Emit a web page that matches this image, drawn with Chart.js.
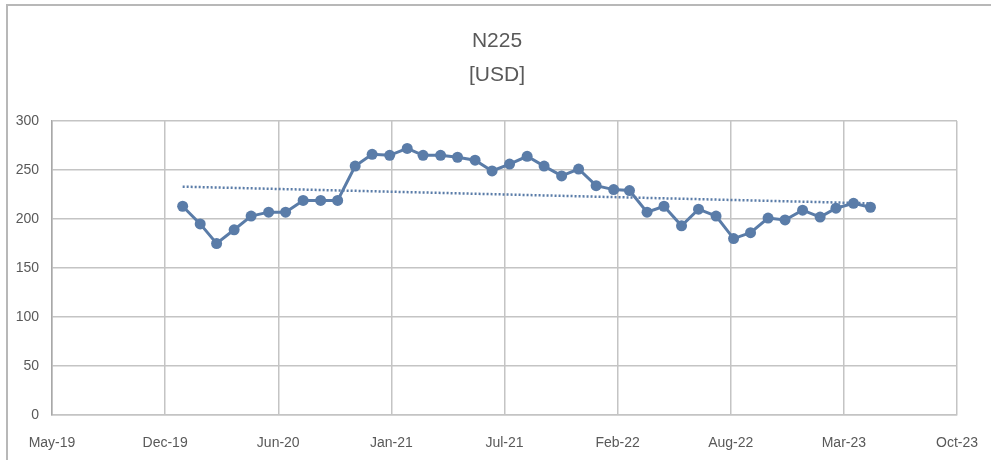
<!DOCTYPE html>
<html>
<head>
<meta charset="utf-8">
<script src="https://cdn.jsdelivr.net/npm/chart.js@4/dist/chart.umd.min.js"></script>
<style>
  html, body { margin: 0; padding: 0; background: #fff; }
  #wrap { position: relative; width: 991px; height: 460px; overflow: hidden; }
  #frame { position: absolute; left: 6px; top: 4px; right: -4px; bottom: -4px;
           border-top: 2px solid #b8b8b8; border-left: 2px solid #b8b8b8; }
  canvas { position: absolute; left: 0; top: 0; }
</style>
</head>
<body>
<div id="wrap">
  <div id="frame"></div>
  <canvas id="chart" width="991" height="460"></canvas>
</div>
<script>
// monthly observations (first of month)
const months = [
  "2020-01", "2020-02", "2020-03", "2020-04", "2020-05", "2020-06", "2020-07", "2020-08",
  "2020-09", "2020-10", "2020-11", "2020-12", "2021-01", "2021-02", "2021-03", "2021-04",
  "2021-05", "2021-06", "2021-07", "2021-08", "2021-09", "2021-10", "2021-11", "2021-12",
  "2022-01", "2022-02", "2022-03", "2022-04", "2022-05", "2022-06", "2022-07", "2022-08",
  "2022-09", "2022-10", "2022-11", "2022-12", "2023-01", "2023-02", "2023-03", "2023-04",
  "2023-05"
];
const priceUsd = [
  213, 195, 175, 189, 203, 207, 207, 219,
  219, 219, 254, 266, 265, 272, 265, 265,
  263, 260, 249, 256, 264, 254, 244, 251,
  234, 230, 229, 207, 213, 193, 210, 203,
  180, 186, 201, 199, 209, 202, 211, 216,
  212
];
// dotted linear trendline, start and end values
const trendValues = [233, 216];

// date axis: May-19 .. Oct-23, a tick every 200 days
const axisStart = "2019-05-15";
const axisStepDays = 200;
const axisSteps = 8;
const yTicks = [0, 50, 100, 150, 200, 250, 300];

const monthNames = ["Jan", "Feb", "Mar", "Apr", "May", "Jun", "Jul", "Aug", "Sep", "Oct", "Nov", "Dec"];
const DAY = 86400000;

function toDay(s) {
  let p = s.split("-").map(Number);
  return Date.UTC(p[0], p[1] - 1, p[2] || 1) / DAY;
}
function fmtDay(d) {
  let dt = new Date(Math.round(d) * DAY);
  return monthNames[dt.getUTCMonth()] + "-" + String(dt.getUTCFullYear()).slice(2);
}

const xMin = toDay(axisStart);
const xMax = xMin + axisStepDays * axisSteps;
const points = months.map((m, i) => ({ x: toDay(m), y: priceUsd[i] }));
const trendPoints = [
  { x: points[0].x, y: trendValues[0] },
  { x: points[points.length - 1].x, y: trendValues[1] }
];

const lineColor = "#5a7ca8";
const textColor = "#595959";
const gridColor = "#c4c4c4";
const fontFamily = "'Liberation Sans', Arial, sans-serif";

// title drawn above the plot area
const titlePlugin = {
  id: "titleLines",
  afterDraw(chart) {
    let c = chart.ctx;
    c.save();
    c.fillStyle = textColor;
    c.font = "21px " + fontFamily;
    c.textAlign = "center";
    c.textBaseline = "middle";
    c.fillText("N225", 497, 41);
    c.fillText("[USD]", 497, 75);
    c.restore();
  }
};

let ctx = document.getElementById("chart").getContext("2d");
let chart = new Chart(ctx, {
  type: "line",
  data: {
    datasets: [{
      label: "N225",
      data: points,
      borderColor: lineColor,
      backgroundColor: lineColor,
      borderWidth: 3,
      pointRadius: 5.5,
      pointBorderWidth: 0,
      pointBackgroundColor: lineColor,
      tension: 0
    }, {
      label: "Trend",
      data: trendPoints,
      borderColor: lineColor,
      borderWidth: 2.5,
      borderDash: [2, 2],
      borderCapStyle: "butt",
      pointRadius: 0
    }]
  },
  options: {
    responsive: false,
    animation: false,
    layout: { padding: { top: 121, right: 34, bottom: 0, left: 0 } },
    plugins: { legend: { display: false }, tooltip: { enabled: false }, title: { display: false } },
    scales: {
      x: {
        type: "linear",
        min: xMin,
        max: xMax,
        afterFit(scale) {
          scale.height = 45;
          scale.paddingLeft = 0;
          scale.paddingRight = 0;
        },
        grid: { color: gridColor, lineWidth: 1.5, drawTicks: false },
        border: { color: gridColor, width: 1.5 },
        ticks: {
          stepSize: axisStepDays,
          autoSkip: false,
          maxRotation: 0,
          padding: 20,
          color: textColor,
          font: { family: fontFamily, size: 14 },
          callback: (v) => fmtDay(v)
        }
      },
      y: {
        min: yTicks[0],
        max: yTicks[yTicks.length - 1],
        afterFit(scale) { scale.width = 52; },
        grid: { color: gridColor, lineWidth: 1.5, drawTicks: false },
        border: { color: "#a8a8a8", width: 1.5 },
        ticks: {
          stepSize: yTicks[1] - yTicks[0],
          padding: 13,
          color: textColor,
          font: { family: fontFamily, size: 14 }
        }
      }
    }
  },
  plugins: [titlePlugin]
});
</script>
</body>
</html>
